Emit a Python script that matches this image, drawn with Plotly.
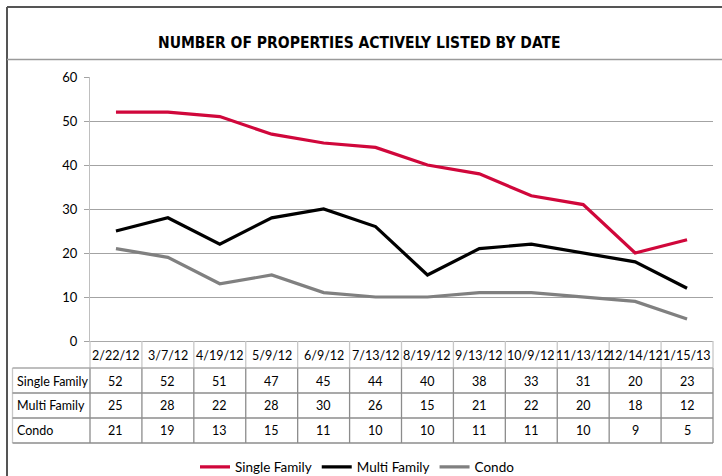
import plotly.graph_objects as go

dates = ["2/22/12", "3/7/12", "4/19/12", "5/9/12", "6/9/12", "7/13/12",
         "8/19/12", "9/13/12", "10/9/12", "11/13/12", "12/14/12", "1/15/13"]
single_family = [52, 52, 51, 47, 45, 44, 40, 38, 33, 31, 20, 23]
multi_family = [25, 28, 22, 28, 30, 26, 15, 21, 22, 20, 18, 12]
condo = [21, 19, 13, 15, 11, 10, 10, 11, 11, 10, 9, 5]
series_names = ["Single Family", "Multi Family", "Condo"]
series_values = [single_family, multi_family, condo]
series_colors = ["#d0073b", "#000000", "#808080"]
title_text = "NUMBER OF PROPERTIES ACTIVELY LISTED BY DATE"

W, H = 722, 476
L, R, T, B = 90, 713, 77, 341  # plot area in px
pw, ph = R - L, B - T

def px_x(x):
    return (x - L) / pw

def px_y(y):
    return (B - y) / ph

FONT = "Lato, Noto Sans, sans-serif"

fig = go.Figure()
for name, vals, col in zip(series_names, series_values, series_colors):
    fig.add_trace(go.Scatter(x=dates, y=vals, name=name, mode="lines",
                             line=dict(color=col, width=3.2),
                             cliponaxis=False))

shapes = []
annotations = []
n = len(dates)
row_lines = [368, 393, 418, 443]
light = "#c8c8c8"
dark = "#8c8c8c"
for k in range(n + 1):
    shapes.append(dict(type="line", xref="paper", yref="paper",
                       x0=k / n, x1=k / n, y0=px_y(B), y1=px_y(row_lines[0]),
                       line=dict(color=light, width=1.3)))
    shapes.append(dict(type="line", xref="paper", yref="paper",
                       x0=k / n, x1=k / n, y0=px_y(row_lines[0]), y1=px_y(row_lines[-1]),
                       line=dict(color=dark, width=1.3)))
shapes.append(dict(type="line", xref="paper", yref="paper",
                   x0=px_x(12.5), x1=px_x(12.5), y0=px_y(row_lines[0]), y1=px_y(row_lines[-1]),
                   line=dict(color=light, width=1.3)))
for i, yl in enumerate(row_lines):
    shapes.append(dict(type="line", xref="paper", yref="paper",
                       x0=px_x(12.5), x1=1, y0=px_y(yl), y1=px_y(yl),
                       line=dict(color=dark if i > 0 else "#a8a8a8", width=1.3)))

shapes.append(dict(type="line", xref="paper", yref="paper",
                   x0=px_x(7), x1=px_x(W), y0=px_y(7), y1=px_y(7),
                   line=dict(color="#555555", width=2)))
shapes.append(dict(type="line", xref="paper", yref="paper",
                   x0=px_x(7), x1=px_x(7), y0=px_y(7), y1=px_y(H),
                   line=dict(color="#555555", width=2)))
shapes.append(dict(type="line", xref="paper", yref="paper",
                   x0=px_x(7), x1=px_x(W), y0=px_y(59.5), y1=px_y(59.5),
                   line=dict(color="#9a9a9a", width=1.3)))

for d in dates:
    annotations.append(dict(x=d, y=px_y(355), xref="x", yref="paper", text=d,
                            showarrow=False, xanchor="center", yanchor="middle",
                            font=dict(size=12.5, color="#000", family=FONT)))
row_centers = [381, 405.5, 430.5]
for name, vals, yc in zip(series_names, series_values, row_centers):
    annotations.append(dict(x=px_x(15), y=px_y(yc), xref="paper", yref="paper",
                            text=name, showarrow=False, xanchor="left", yanchor="middle",
                            font=dict(size=12.5, color="#000", family=FONT)))
    for d, v in zip(dates, vals):
        annotations.append(dict(x=d, y=px_y(yc), xref="x", yref="paper", text=str(v),
                                showarrow=False, xanchor="center", yanchor="middle",
                                font=dict(size=12.5, color="#000", family=FONT)))

annotations.append(dict(x=px_x(359), y=px_y(43), xref="paper", yref="paper",
                        text="<b>" + title_text + "</b>", showarrow=False,
                        xanchor="center", yanchor="middle",
                        font=dict(size=15.5, color="#000",
                                  family="DejaVu Sans Condensed, Liberation Sans Narrow, Liberation Sans, sans-serif")))

fig.update_layout(
    width=W, height=H,
    margin=dict(l=L, r=W - R, t=T, b=H - B, autoexpand=False),
    paper_bgcolor="white", plot_bgcolor="white",
    font=dict(family=FONT, color="#000"),
    showlegend=True,
    legend=dict(orientation="h", x=px_x(195), y=px_y(467), xanchor="left", yanchor="middle",
                font=dict(size=13.5, family=FONT, color="#000"),
                itemwidth=30, tracegroupgap=0, bgcolor="rgba(0,0,0,0)"),
    shapes=shapes, annotations=annotations,
)
fig.update_xaxes(type="category", range=[-0.5, n - 0.5], showgrid=False,
                 showticklabels=False, ticks="", showline=True,
                 linecolor="#a8a8a8", linewidth=1.3, zeroline=False, fixedrange=True)
fig.update_yaxes(range=[0, 60], dtick=10, showgrid=True, gridcolor="#a3a3a3", gridwidth=1.2,
                 showline=True, linecolor="#bfbfbf", linewidth=1.3, ticks="outside",
                 ticklen=5, tickcolor="#a3a3a3", zeroline=False,
                 tickfont=dict(size=13, color="#000", family=FONT),
                 ticklabelstandoff=4, fixedrange=True)

fig.write_html("out.html", config={"displayModeBar": False},
               post_script="document.body.style.margin='0px';document.body.style.overflow='hidden';")
